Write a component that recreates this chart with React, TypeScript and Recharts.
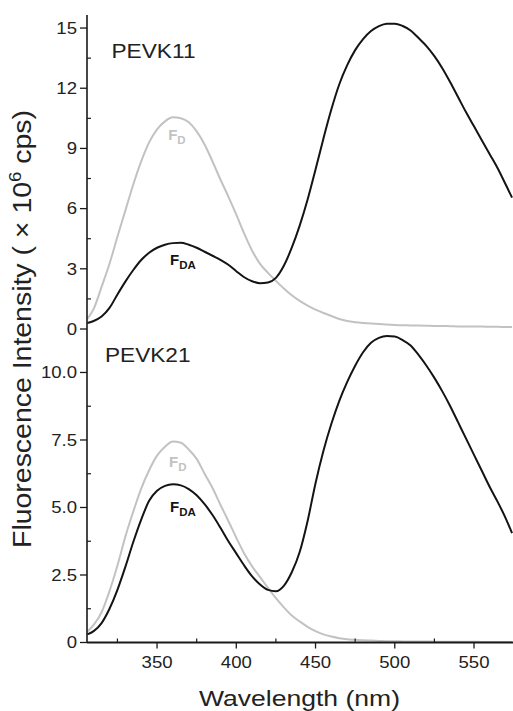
import React from 'react';
import { LineChart, Line, XAxis, YAxis, ReferenceDot } from 'recharts';

// ---------- data ----------
const wavelengths = [
  306, 310, 315, 320, 325, 330, 335, 340, 345, 350, 355, 360, 365, 370, 375, 380, 385, 390, 395, 400,
  405, 410, 415, 420, 425, 430, 435, 440, 445, 450, 455, 460, 465, 470, 475, 480, 485, 490, 495, 500,
  505, 510, 515, 520, 525, 530, 535, 540, 545, 550, 555, 560, 565, 570, 574,
];

// PEVK11
const pevk11FD = [
  0.5, 1.0, 2.1, 3.25, 4.6, 5.9, 7.2, 8.35, 9.3, 9.95, 10.35, 10.55, 10.5, 10.3, 9.85, 9.2, 8.35, 7.45, 6.6, 5.7,
  4.75, 3.9, 3.25, 2.8, 2.4, 2.02, 1.68, 1.4, 1.17, 0.97, 0.8, 0.65, 0.5, 0.4, 0.34, 0.3, 0.27, 0.25, 0.22, 0.2,
  0.19, 0.18, 0.17, 0.16, 0.15, 0.15, 0.14, 0.13, 0.13, 0.12, 0.12, 0.11, 0.11, 0.1, 0.1,
];
const pevk11FDA = [
  0.3, 0.4, 0.62, 1.05, 1.72, 2.36, 2.94, 3.44, 3.8, 4.05, 4.2, 4.28, 4.3, 4.2, 4.05, 3.85, 3.65, 3.45, 3.2, 2.88,
  2.58, 2.38, 2.28, 2.32, 2.55, 3.15, 4.05, 5.15, 6.45, 7.95, 9.5, 10.95, 12.2, 13.15, 13.9, 14.45, 14.85, 15.1, 15.22, 15.22,
  15.1, 14.88, 14.5, 14.1, 13.6, 13.0, 12.3, 11.55, 10.8, 10.1, 9.4, 8.7, 8.0, 7.2, 6.55,
];

// PEVK21
const pevk21FD = [
  0.4, 0.65, 1.12, 1.9, 2.85, 3.92, 4.85, 5.7, 6.38, 6.92, 7.25, 7.44, 7.4, 7.15, 6.8, 6.25, 5.72, 5.1, 4.5, 3.88,
  3.3, 2.82, 2.42, 2.02, 1.64, 1.3, 1.0, 0.78, 0.58, 0.42, 0.3, 0.22, 0.16, 0.12, 0.1, 0.08, 0.07, 0.06, 0.05, 0.05,
  0.04, 0.04, 0.04, 0.04, 0.03, 0.03, 0.03, 0.03, 0.03, 0.03, 0.02, 0.02, 0.02, 0.02, 0.02,
];
const pevk21FDA = [
  0.3, 0.42, 0.72, 1.25, 1.95, 2.8, 3.72, 4.55, 5.25, 5.62, 5.8, 5.86, 5.82, 5.68, 5.45, 5.12, 4.72, 4.25, 3.75, 3.3,
  2.85, 2.45, 2.15, 1.95, 1.9, 2.1, 2.6, 3.35, 4.5, 5.9, 7.1, 8.1, 8.95, 9.65, 10.25, 10.75, 11.1, 11.28, 11.35, 11.33,
  11.2, 11.0, 10.65, 10.25, 9.8, 9.3, 8.75, 8.15, 7.55, 6.95, 6.35, 5.75, 5.2, 4.6, 4.05,
];

const xDomain: [number, number] = [305.8, 574.6];
const xMajorTicks = [350, 400, 450, 500, 550];
const xMinorTicks = [325, 375, 425, 475, 525];
const xTickLabels = ['350', '400', '450', '500', '550'];

const topYDomain: [number, number] = [0, 15.65];
const topYMajor = [0, 3, 6, 9, 12, 15];
const topYMinor = [1.5, 4.5, 7.5, 10.5, 13.5];
const topYLabels = ['0', '3', '6', '9', '12', '15'];

const botYDomain: [number, number] = [0, 11.61];
const botYMajor = [0, 2.5, 5, 7.5, 10];
const botYMinor = [1.25, 3.75, 6.25, 8.75];
const botYLabels = ['0', '2.5', '5.0', '7.5', '10.0'];

const topData = wavelengths.map((w, i) => ({ w, fd: pevk11FD[i], fda: pevk11FDA[i] }));
const botData = wavelengths.map((w, i) => ({ w, fd: pevk21FD[i], fda: pevk21FDA[i] }));

// ---------- styles ----------
const FONT = '"Liberation Sans", Arial, Helvetica, sans-serif';
const AX = '#1a1a1a';
const TXT = '#222';
const GRAY = '#c2c2c2';
const BLACK = '#141414';
const SX = 1.16;

// ---------- ticks ----------
const YTick = (props: any) => {
  const { x, y, payload, majors, labels } = props;
  const idx = majors.indexOf(payload.value);
  if (idx >= 0) {
    return (
      <g>
        <line x1={x - 7} x2={x} y1={y} y2={y} stroke={AX} strokeWidth={1.3} />
        <text
          transform={`translate(${x - 10},${y}) scale(${SX},1)`}
          textAnchor="end"
          dy="0.36em"
          fontSize={16}
          fontFamily={FONT}
          fill={TXT}
        >
          {labels[idx]}
        </text>
      </g>
    );
  }
  return <line x1={x} x2={x + 4} y1={y} y2={y} stroke={AX} strokeWidth={1.2} />;
};

const XBottomTick = (props: any) => {
  const { x, y, payload } = props;
  const idx = xMajorTicks.indexOf(payload.value);
  if (idx >= 0) {
    return (
      <g>
        <line x1={x} x2={x} y1={y} y2={y + 6} stroke={AX} strokeWidth={1.3} />
        <text
          transform={`translate(${x},${y + 25.5}) scale(${SX},1)`}
          textAnchor="middle"
          fontSize={16}
          fontFamily={FONT}
          fill={TXT}
        >
          {xTickLabels[idx]}
        </text>
      </g>
    );
  }
  return <line x1={x} x2={x} y1={y} y2={y - 4} stroke={AX} strokeWidth={1.2} />;
};

const XInnerTickUp = (props: any) => {
  const { x, y } = props;
  return <line x1={x} x2={x} y1={y} y2={y - 4} stroke={AX} strokeWidth={1.1} />;
};
const XInnerTickDown = (props: any) => {
  const { x, y } = props;
  return <line x1={x} x2={x} y1={y} y2={y + 4} stroke={AX} strokeWidth={1.1} />;
};

const allXTicks = [...xMinorTicks, ...xMajorTicks].sort((a, b) => a - b);

// ---------- annotation labels ----------
const FLabel = (props: any) => {
  const { cx, cy, sub, color } = props;
  return (
    <text x={cx} y={cy} fontFamily={FONT} fontWeight="bold" fill={color} fontSize={15}>
      F
      <tspan fontSize={11.5} dy={4}>
        {sub}
      </tspan>
    </text>
  );
};

const W = 513;
const H = 711;

export default function App() {
  return (
    <div style={{ position: 'absolute', left: 0, top: 0, width: W, height: H, background: '#fff' }}>
      {/* Top panel: PEVK11 */}
      <div style={{ position: 'absolute', left: 0, top: 0 }}>
        <LineChart width={W} height={345} data={topData} margin={{ top: 15, right: 0, bottom: 16, left: 0 }}>
          <XAxis
            xAxisId="main"
            dataKey="w"
            type="number"
            domain={xDomain}
            allowDataOverflow
            orientation="bottom"
            height={0}
            ticks={allXTicks}
            interval={0}
            tickSize={0}
            tickMargin={0}
            tickLine={false}
            axisLine={{ stroke: AX, strokeWidth: 1.8 }}
            tick={(p: any) => <XInnerTickUp {...p} />}
          />
          <XAxis
            xAxisId="top"
            dataKey="w"
            type="number"
            domain={xDomain}
            allowDataOverflow
            orientation="top"
            height={0}
            ticks={allXTicks}
            interval={0}
            tickSize={0}
            tickMargin={0}
            tickLine={false}
            axisLine={{ stroke: AX, strokeWidth: 1.4 }}
            tick={(p: any) => <XInnerTickDown {...p} />}
          />
          <YAxis
            type="number"
            domain={topYDomain}
            allowDataOverflow
            width={87}
            ticks={[...topYMajor, ...topYMinor].sort((a, b) => a - b)}
            interval={0}
            tickSize={0}
            tickMargin={0}
            tickLine={false}
            axisLine={{ stroke: AX, strokeWidth: 1.6 }}
            tick={(p: any) => <YTick {...p} majors={topYMajor} labels={topYLabels} />}
          />
          <Line xAxisId="main" type="monotone" dataKey="fd" stroke={GRAY} strokeWidth={2} dot={false} activeDot={false} isAnimationActive={false} />
          <Line xAxisId="main" type="monotone" dataKey="fda" stroke={BLACK} strokeWidth={2} dot={false} activeDot={false} isAnimationActive={false} />
          <ReferenceDot xAxisId="main" x={357} y={9.42} r={0} shape={(p: any) => <FLabel {...p} sub="D" color={GRAY} />} />
          <ReferenceDot xAxisId="main" x={358.2} y={3.19} r={0} shape={(p: any) => <FLabel {...p} sub="DA" color={BLACK} />} />
        </LineChart>
      </div>

      {/* Bottom panel: PEVK21 */}
      <div style={{ position: 'absolute', left: 0, top: 0 }}>
        <LineChart width={W} height={H} data={botData} margin={{ top: 329, right: 0, bottom: 0, left: 0 }}>
          <XAxis
            xAxisId="main"
            dataKey="w"
            type="number"
            domain={xDomain}
            allowDataOverflow
            orientation="bottom"
            height={68.5}
            ticks={allXTicks}
            interval={0}
            tickSize={0}
            tickMargin={0}
            tickLine={false}
            axisLine={{ stroke: AX, strokeWidth: 1.8 }}
            tick={(p: any) => <XBottomTick {...p} />}
          />
          <XAxis
            xAxisId="top"
            dataKey="w"
            type="number"
            domain={xDomain}
            allowDataOverflow
            orientation="top"
            height={0}
            ticks={allXTicks}
            interval={0}
            tickSize={0}
            tickMargin={0}
            tickLine={false}
            axisLine={{ stroke: AX, strokeWidth: 1.8 }}
            tick={(p: any) => <XInnerTickDown {...p} />}
          />
          <YAxis
            type="number"
            domain={botYDomain}
            allowDataOverflow
            width={87}
            ticks={[...botYMajor, ...botYMinor].sort((a, b) => a - b)}
            interval={0}
            tickSize={0}
            tickMargin={0}
            tickLine={false}
            axisLine={{ stroke: AX, strokeWidth: 1.6 }}
            tick={(p: any) => <YTick {...p} majors={botYMajor} labels={botYLabels} />}
          />
          <Line xAxisId="main" type="monotone" dataKey="fd" stroke={GRAY} strokeWidth={2} dot={false} activeDot={false} isAnimationActive={false} />
          <Line xAxisId="main" type="monotone" dataKey="fda" stroke={BLACK} strokeWidth={2} dot={false} activeDot={false} isAnimationActive={false} />
          <ReferenceDot xAxisId="main" x={357.6} y={6.5} r={0} shape={(p: any) => <FLabel {...p} sub="D" color={GRAY} />} />
          <ReferenceDot xAxisId="main" x={358.2} y={4.83} r={0} shape={(p: any) => <FLabel {...p} sub="DA" color={BLACK} />} />
        </LineChart>
      </div>

      {/* Titles */}
      <svg width={W} height={H} style={{ position: 'absolute', left: 0, top: 0, pointerEvents: 'none' }}>
        <text x={111.5} y={57.5} fontFamily={FONT} fontSize={20} fill={TXT} textLength={84} lengthAdjust="spacingAndGlyphs">
          PEVK11
        </text>
        <text x={105} y={362} fontFamily={FONT} fontSize={20} fill={TXT} textLength={85.5} lengthAdjust="spacingAndGlyphs">
          PEVK21
        </text>
        <text
          x={299.5}
          y={706}
          textAnchor="middle"
          fontFamily={FONT}
          fontSize={22}
          fill={TXT}
          textLength={201}
          lengthAdjust="spacingAndGlyphs"
        >
          Wavelength (nm)
        </text>
        <text
          x={30.5}
          y={329}
          transform="rotate(-90, 30.5, 329)"
          textAnchor="middle"
          fontFamily={FONT}
          fontSize={26}
          fill={TXT}
          textLength={438}
          lengthAdjust="spacingAndGlyphs"
        >
          Fluorescence Intensity ( × 10
          <tspan fontSize={17} dy={-10}>
            6
          </tspan>
          <tspan dy={10}> cps)</tspan>
        </text>
      </svg>
    </div>
  );
}
